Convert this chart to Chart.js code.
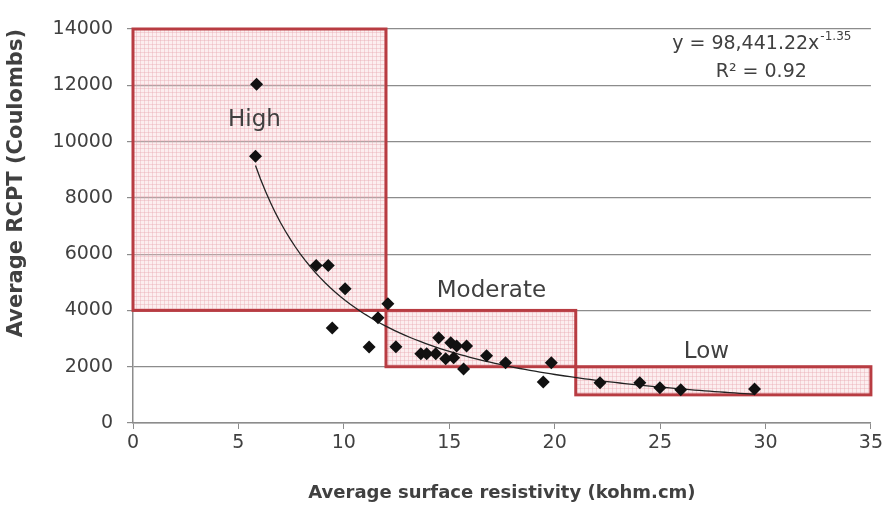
<!DOCTYPE html>
<html>
<head>
<meta charset="utf-8">
<script src="https://cdn.jsdelivr.net/npm/chart.js@4.4.1/dist/chart.umd.min.js"></script>
<style>
  html, body { margin: 0; padding: 0; background: #fff; }
  #wrap { width: 886px; height: 508px; }
</style>
</head>
<body>
<div id="wrap"><canvas id="rcpt"></canvas></div>
<script>
// resistivity (kohm.cm) vs RCPT (Coulombs)
var resistivity = [5.86, 5.81, 8.69, 9.26, 10.06, 9.45, 11.2, 12.47, 12.09, 11.62,
  14.5, 15.07, 15.82, 15.35, 13.65, 13.93, 14.36, 14.83, 15.21, 15.68,
  16.77, 17.67, 19.84, 19.46, 22.15, 24.04, 24.99, 25.98, 29.48];
var rcpt = [12040, 9480, 5600, 5600, 4770, 3380, 2700, 2710, 4240, 3740,
  3030, 2850, 2740, 2740, 2460, 2460, 2460, 2280, 2320, 1920,
  2390, 2140, 2140, 1460, 1430, 1430, 1250, 1180, 1210];

// power trend: y = a * x^b
var trendA = 98441.22;
var trendB = -1.35;
var trendR2 = 0.92;

// permeability classes
var zoneNames = ['High', 'Moderate', 'Low'];
var zoneX = [[0, 12], [12, 21], [21, 35]];
var zoneY = [[4000, 14000], [2000, 4000], [1000, 2000]];
var zoneLabelAt = [[5.76, 10770], [17.0, 4690], [27.2, 2510]];

var xTicks = [0, 5, 10, 15, 20, 25, 30, 35];
var yTicks = [0, 2000, 4000, 6000, 8000, 10000, 12000, 14000];

var points = resistivity.map(function (x, i) { return { x: x, y: rcpt[i] }; });

var trend = [];
var xMin = Math.min.apply(null, resistivity);
var xMax = Math.max.apply(null, resistivity);
for (var i = 0; i <= 100; i++) {
  var tx = xMin + (xMax - xMin) * i / 100;
  trend.push({ x: tx, y: trendA * Math.pow(tx, trendB) });
}

// fine pink grid fill for the class boxes
function makeHatch(ctx) {
  var c = document.createElement('canvas');
  c.width = 4; c.height = 4;
  var g = c.getContext('2d');
  g.fillStyle = 'rgba(246,205,210,0.35)';
  g.fillRect(0, 0, 4, 4);
  g.fillStyle = 'rgba(228,160,168,0.35)';
  g.fillRect(0, 0, 4, 1);
  g.fillRect(0, 0, 1, 4);
  return ctx.createPattern(c, 'repeat');
}

var zonesPlugin = {
  id: 'zones',
  beforeDatasetsDraw: function (chart) {
    var ctx = chart.ctx, xs = chart.scales.x, ys = chart.scales.y;
    ctx.save();
    var hatch = makeHatch(ctx);
    for (var i = 0; i < zoneNames.length; i++) {
      var l = xs.getPixelForValue(zoneX[i][0]);
      var r = xs.getPixelForValue(zoneX[i][1]);
      var t = ys.getPixelForValue(zoneY[i][1]);
      var b = ys.getPixelForValue(zoneY[i][0]);
      ctx.fillStyle = hatch;
      ctx.fillRect(l, t, r - l, b - t);
      ctx.strokeStyle = '#b83c42';
      ctx.lineWidth = 3;
      ctx.strokeRect(l, t, r - l, b - t);
    }
    ctx.restore();
  },
  afterDatasetsDraw: function (chart) {
    var ctx = chart.ctx, xs = chart.scales.x, ys = chart.scales.y;
    ctx.save();
    ctx.fillStyle = '#404040';
    ctx.textAlign = 'center';
    ctx.textBaseline = 'middle';
    ctx.font = '23px "DejaVu Sans"';
    for (var i = 0; i < zoneNames.length; i++) {
      ctx.fillText(zoneNames[i],
        xs.getPixelForValue(zoneLabelAt[i][0]),
        ys.getPixelForValue(zoneLabelAt[i][1]));
    }

    // trend equation, top right
    var cx = xs.getPixelForValue(29.8);
    var y1 = ys.getPixelForValue(13480);
    var y2 = ys.getPixelForValue(12480);
    var main = 'y = ' + trendA.toLocaleString('en-US', { minimumFractionDigits: 2 }) + 'x';
    var sup = String(trendB);
    ctx.font = '19px "DejaVu Sans"';
    var wMain = ctx.measureText(main).width;
    ctx.font = '12px "DejaVu Sans"';
    var wSup = ctx.measureText(sup).width;
    var left = cx - (wMain + wSup) / 2;
    ctx.textAlign = 'left';
    ctx.font = '19px "DejaVu Sans"';
    ctx.fillText(main, left, y1);
    ctx.font = '12px "DejaVu Sans"';
    ctx.fillText(sup, left + wMain + 1, y1 - 7);
    ctx.textAlign = 'center';
    ctx.font = '19px "DejaVu Sans"';
    ctx.fillText('R\u00b2 = ' + trendR2.toFixed(2), cx, y2);
    ctx.restore();
  }
};

function plain(v) { return String(v); }

new Chart(document.getElementById('rcpt'), {
  type: 'scatter',
  data: {
    datasets: [{
      label: 'RCPT',
      data: points,
      pointStyle: 'rectRot',
      pointRadius: 6.5,
      pointHoverRadius: 6.5,
      backgroundColor: '#111',
      borderColor: '#111',
      borderWidth: 0,
      order: 1
    }, {
      label: 'Power trend',
      data: trend,
      showLine: true,
      pointRadius: 0,
      borderColor: '#222',
      borderWidth: 1.3,
      fill: false,
      order: 2
    }]
  },
  options: {
    responsive: true,
    maintainAspectRatio: false,
    animation: false,
    events: [],
    layout: { padding: { top: 29, right: 12, left: 0, bottom: 0 } },
    plugins: { legend: { display: false }, tooltip: { enabled: false } },
    scales: {
      x: {
        type: 'linear',
        min: 0, max: 35,
        afterBuildTicks: function (s) { s.ticks = xTicks.map(function (v) { return { value: v }; }); },
        afterFit: function (s) { s.height = 85; },
        grid: { drawOnChartArea: false, drawTicks: true, tickLength: 6, color: '#8c8c8c' },
        border: { color: '#8c8c8c', width: 1.5 },
        ticks: { color: '#404040', font: { family: 'DejaVu Sans', size: 19 }, padding: 3, callback: plain },
        title: {
          display: true,
          text: 'Average surface resistivity (kohm.cm)',
          color: '#404040',
          font: { family: 'DejaVu Sans', size: 18, weight: 'bold' },
          padding: { top: 6 }
        }
      },
      y: {
        min: 0, max: 14000,
        afterBuildTicks: function (s) { s.ticks = yTicks.map(function (v) { return { value: v }; }); },
        afterFit: function (s) { s.width = 133; },
        grid: { color: '#8c8c8c', lineWidth: 1.2, tickLength: 6 },
        border: { color: '#8c8c8c', width: 1.5 },
        ticks: { color: '#404040', font: { family: 'DejaVu Sans', size: 19 }, padding: 14, callback: plain },
        title: {
          display: true,
          align: 'end',
          text: 'Average RCPT (Coulombs)',
          color: '#404040',
          font: { family: 'DejaVu Sans', size: 21, weight: 'bold' },
          padding: { bottom: 4 }
        }
      }
    }
  },
  plugins: [zonesPlugin]
});
</script>
</body>
</html>
